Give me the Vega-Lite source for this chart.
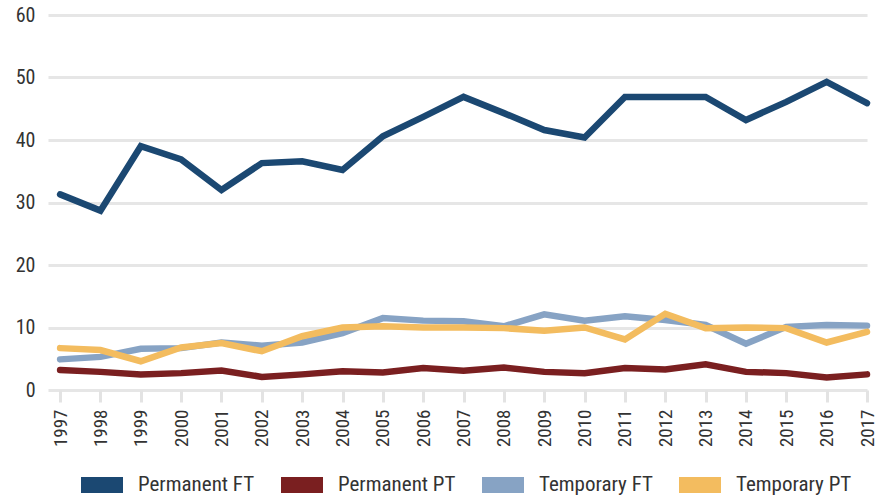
{
  "$schema": "https://vega.github.io/schema/vega-lite/v6.json",
  "width": 819,
  "height": 375,
  "autosize": "none",
  "padding": {"left": 48, "top": 15, "right": 12, "bottom": 108},
  "background": "white",
  "config": {
    "font": "Roboto Condensed, Liberation Sans Narrow, DejaVu Sans Condensed, Roboto",
    "view": {"stroke": null}
  },
  "data": {
    "values": [
      {"year": 1997, "series": "Permanent FT", "value": 31.3},
      {"year": 1998, "series": "Permanent FT", "value": 28.7},
      {"year": 1999, "series": "Permanent FT", "value": 39.0},
      {"year": 2000, "series": "Permanent FT", "value": 36.9},
      {"year": 2001, "series": "Permanent FT", "value": 32.0},
      {"year": 2002, "series": "Permanent FT", "value": 36.3},
      {"year": 2003, "series": "Permanent FT", "value": 36.6},
      {"year": 2004, "series": "Permanent FT", "value": 35.2},
      {"year": 2005, "series": "Permanent FT", "value": 40.6},
      {"year": 2006, "series": "Permanent FT", "value": 43.7},
      {"year": 2007, "series": "Permanent FT", "value": 46.9},
      {"year": 2008, "series": "Permanent FT", "value": 44.3},
      {"year": 2009, "series": "Permanent FT", "value": 41.6},
      {"year": 2010, "series": "Permanent FT", "value": 40.4},
      {"year": 2011, "series": "Permanent FT", "value": 46.9},
      {"year": 2012, "series": "Permanent FT", "value": 46.9},
      {"year": 2013, "series": "Permanent FT", "value": 46.9},
      {"year": 2014, "series": "Permanent FT", "value": 43.2},
      {"year": 2015, "series": "Permanent FT", "value": 46.1},
      {"year": 2016, "series": "Permanent FT", "value": 49.3},
      {"year": 2017, "series": "Permanent FT", "value": 45.9},
      {"year": 1997, "series": "Permanent PT", "value": 3.2},
      {"year": 1998, "series": "Permanent PT", "value": 2.9},
      {"year": 1999, "series": "Permanent PT", "value": 2.5},
      {"year": 2000, "series": "Permanent PT", "value": 2.7},
      {"year": 2001, "series": "Permanent PT", "value": 3.1},
      {"year": 2002, "series": "Permanent PT", "value": 2.1},
      {"year": 2003, "series": "Permanent PT", "value": 2.5},
      {"year": 2004, "series": "Permanent PT", "value": 3.0},
      {"year": 2005, "series": "Permanent PT", "value": 2.8},
      {"year": 2006, "series": "Permanent PT", "value": 3.5},
      {"year": 2007, "series": "Permanent PT", "value": 3.1},
      {"year": 2008, "series": "Permanent PT", "value": 3.6},
      {"year": 2009, "series": "Permanent PT", "value": 2.9},
      {"year": 2010, "series": "Permanent PT", "value": 2.7},
      {"year": 2011, "series": "Permanent PT", "value": 3.5},
      {"year": 2012, "series": "Permanent PT", "value": 3.3},
      {"year": 2013, "series": "Permanent PT", "value": 4.1},
      {"year": 2014, "series": "Permanent PT", "value": 2.9},
      {"year": 2015, "series": "Permanent PT", "value": 2.7},
      {"year": 2016, "series": "Permanent PT", "value": 2.0},
      {"year": 2017, "series": "Permanent PT", "value": 2.5},
      {"year": 1997, "series": "Temporary FT", "value": 4.9},
      {"year": 1998, "series": "Temporary FT", "value": 5.3},
      {"year": 1999, "series": "Temporary FT", "value": 6.6},
      {"year": 2000, "series": "Temporary FT", "value": 6.7},
      {"year": 2001, "series": "Temporary FT", "value": 7.6},
      {"year": 2002, "series": "Temporary FT", "value": 7.1},
      {"year": 2003, "series": "Temporary FT", "value": 7.6},
      {"year": 2004, "series": "Temporary FT", "value": 9.1},
      {"year": 2005, "series": "Temporary FT", "value": 11.5},
      {"year": 2006, "series": "Temporary FT", "value": 11.1},
      {"year": 2007, "series": "Temporary FT", "value": 11.0},
      {"year": 2008, "series": "Temporary FT", "value": 10.2},
      {"year": 2009, "series": "Temporary FT", "value": 12.1},
      {"year": 2010, "series": "Temporary FT", "value": 11.1},
      {"year": 2011, "series": "Temporary FT", "value": 11.8},
      {"year": 2012, "series": "Temporary FT", "value": 11.2},
      {"year": 2013, "series": "Temporary FT", "value": 10.4},
      {"year": 2014, "series": "Temporary FT", "value": 7.4},
      {"year": 2015, "series": "Temporary FT", "value": 10.1},
      {"year": 2016, "series": "Temporary FT", "value": 10.4},
      {"year": 2017, "series": "Temporary FT", "value": 10.3},
      {"year": 1997, "series": "Temporary PT", "value": 6.7},
      {"year": 1998, "series": "Temporary PT", "value": 6.4},
      {"year": 1999, "series": "Temporary PT", "value": 4.6},
      {"year": 2000, "series": "Temporary PT", "value": 6.8},
      {"year": 2001, "series": "Temporary PT", "value": 7.5},
      {"year": 2002, "series": "Temporary PT", "value": 6.2},
      {"year": 2003, "series": "Temporary PT", "value": 8.6},
      {"year": 2004, "series": "Temporary PT", "value": 10.0},
      {"year": 2005, "series": "Temporary PT", "value": 10.2},
      {"year": 2006, "series": "Temporary PT", "value": 10.0},
      {"year": 2007, "series": "Temporary PT", "value": 10.0},
      {"year": 2008, "series": "Temporary PT", "value": 9.9},
      {"year": 2009, "series": "Temporary PT", "value": 9.5},
      {"year": 2010, "series": "Temporary PT", "value": 10.0},
      {"year": 2011, "series": "Temporary PT", "value": 8.1},
      {"year": 2012, "series": "Temporary PT", "value": 12.2},
      {"year": 2013, "series": "Temporary PT", "value": 9.9},
      {"year": 2014, "series": "Temporary PT", "value": 10.0},
      {"year": 2015, "series": "Temporary PT", "value": 9.9},
      {"year": 2016, "series": "Temporary PT", "value": 7.6},
      {"year": 2017, "series": "Temporary PT", "value": 9.3}
    ]
  },
  "mark": {"type": "line", "strokeWidth": 6.5, "strokeCap": "round"},
  "encoding": {
    "x": {
      "field": "year",
      "type": "quantitative",
      "scale": {"domain": [1996.7, 2017], "nice": false, "zero": false},
      "axis": {
        "title": null,
        "values": [1997,1998,1999,2000,2001,2002,2003,2004,2005,2006,2007,2008,2009,2010,2011,2012,2013,2014,2015,2016,2017],
        "format": "d",
        "labelAngle": -90,
        "labelFontSize": 19,
        "labelColor": "#333333",
        "labelPadding": 7,
        "domain": false,
        "grid": false,
        "ticks": true,
        "tickColor": "#e3e3e3",
        "tickWidth": 3,
        "tickSize": 12,
        "labelOverlap": false,
        "labelFlush": false
      }
    },
    "y": {
      "field": "value",
      "type": "quantitative",
      "scale": {"domain": [0, 60], "nice": false},
      "axis": {
        "title": null,
        "values": [0, 10, 20, 30, 40, 50, 60],
        "labelFontSize": 20,
        "labelColor": "#333333",
        "labelPadding": 13,
        "domain": false,
        "ticks": false,
        "grid": true,
        "gridColor": "#e6e6e6",
        "gridWidth": 3
      }
    },
    "color": {
      "field": "series",
      "type": "nominal",
      "scale": {
        "domain": ["Permanent FT", "Permanent PT", "Temporary FT", "Temporary PT"],
        "range": ["#1b4872", "#7a1f20", "#87a3c4", "#f3bc5f"]
      },
      "legend": {
        "title": null,
        "orient": "none",
        "direction": "horizontal",
        "legendX": 33,
        "legendY": 449,
        "symbolType": "M-1,-0.38H1V0.38H-1Z",
        "symbolSize": 1764,
        "symbolStrokeWidth": 0,
        "symbolOpacity": 1,
        "labelFontSize": 21,
        "labelColor": "#333333",
        "labelOffset": 15,
        "columnPadding": 26,
        "encode": {
          "symbols": {
            "update": {
              "fill": {"scale": "color", "field": "value"},
              "fillOpacity": {"value": 1}
            }
          }
        }
      }
    }
  }
}
